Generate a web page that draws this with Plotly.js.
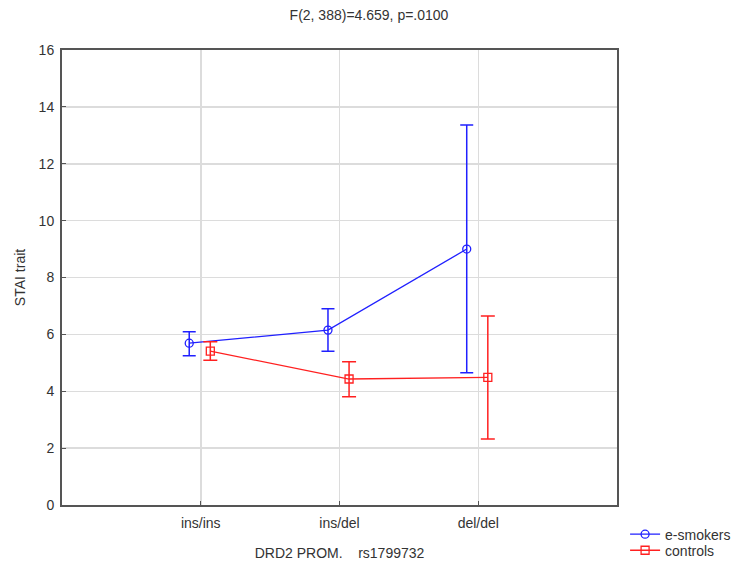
<!DOCTYPE html>
<html>
<head>
<meta charset="utf-8">
<script src="https://cdn.plot.ly/plotly-3.0.1.min.js"></script>
<style>html,body{margin:0;padding:0;background:#fff;}#chart{width:738px;height:561px;}</style>
</head>
<body>
<div id="chart"></div>
<script>
// Data
const categories = ["ins/ins", "ins/del", "del/del"];
const smokersMean  = [5.69, 6.15, 9.00];
const smokersUpper = [6.09, 6.90, 13.36];
const smokersLower = [5.25, 5.41, 4.65];
const controlsMean  = [5.41, 4.43, 4.49];
const controlsUpper = [5.74, 5.04, 6.65];
const controlsLower = [5.09, 3.81, 2.32];
const yTicks = [0, 2, 4, 6, 8, 10, 12, 14, 16];

const catPos = categories.map((c, i) => i + 1);
const blueShift = -0.083, redShift = 0.069;

const traces = [
  {
    name: "e-smokers",
    legend: "legend",
    x: catPos.map(p => p + blueShift),
    y: smokersMean,
    type: "scatter",
    mode: "lines+markers",
    line: {color: "#2020ff", width: 1.3},
    marker: {symbol: "circle-open", size: 8, color: "#2020ff", line: {width: 1.3}},
    error_y: {type: "data", symmetric: false,
      array: smokersUpper.map((u, i) => u - smokersMean[i]),
      arrayminus: smokersMean.map((m, i) => m - smokersLower[i]),
      color: "#2020ff", thickness: 1.5, width: 6.5}
  },
  {
    name: "controls",
    legend: "legend2",
    x: catPos.map(p => p + redShift),
    y: controlsMean,
    type: "scatter",
    mode: "lines+markers",
    line: {color: "#ff2020", width: 1.3},
    marker: {symbol: "square-open", size: 8, color: "#ff2020", line: {width: 1.3}},
    error_y: {type: "data", symmetric: false,
      array: controlsUpper.map((u, i) => u - controlsMean[i]),
      arrayminus: controlsMean.map((m, i) => m - controlsLower[i]),
      color: "#ff2020", thickness: 1.5, width: 7}
  }
];

const legendBase = {xref: "container", x: 0.847, xanchor: "left", yref: "container", yanchor: "top",
  bgcolor: "rgba(0,0,0,0)", font: {size: 14, color: "#333"}, tracegroupgap: 0, itemwidth: 30};

const layout = {
  width: 738, height: 561,
  margin: {l: 62, r: 121, t: 50, b: 56},
  paper_bgcolor: "#fff", plot_bgcolor: "#fff",
  font: {family: "Liberation Sans, Arial, sans-serif", size: 14, color: "#333"},
  title: {text: "F(2, 388)=4.659, p=.0100", x: 0.5, xref: "container", y: 0.973, yref: "container", yanchor: "middle",
          font: {size: 14, color: "#333"}},
  xaxis: {
    range: [0, 4], tickvals: catPos, ticktext: categories,
    showgrid: true, gridcolor: "#dcdcdc", gridwidth: 1.5,
    showline: true, mirror: true, linecolor: "#555", linewidth: 2,
    ticks: "inside", ticklen: 4, tickcolor: "#555", ticklabelstandoff: 4,
    zeroline: false, automargin: false,
    title: {text: "DRD2 PROM.    rs1799732", standoff: 18, font: {size: 14, color: "#333"}}
  },
  yaxis: {
    range: [0, 16], tickvals: yTicks,
    showgrid: true, gridcolor: "#dcdcdc", gridwidth: 1.5,
    showline: true, mirror: true, linecolor: "#555", linewidth: 2,
    ticks: "inside", ticklen: 4, tickcolor: "#555", ticklabelstandoff: 3,
    zeroline: false, automargin: false,
    title: {text: "STAI trait", standoff: 10, font: {size: 14, color: "#333"}}
  },
  showlegend: true,
  legend: Object.assign({}, legendBase, {y: 0.0756}),
  legend2: Object.assign({}, legendBase, {y: 0.047})
};

Plotly.newPlot("chart", traces, layout, {displayModeBar: false, staticPlot: true});
</script>
</body>
</html>
